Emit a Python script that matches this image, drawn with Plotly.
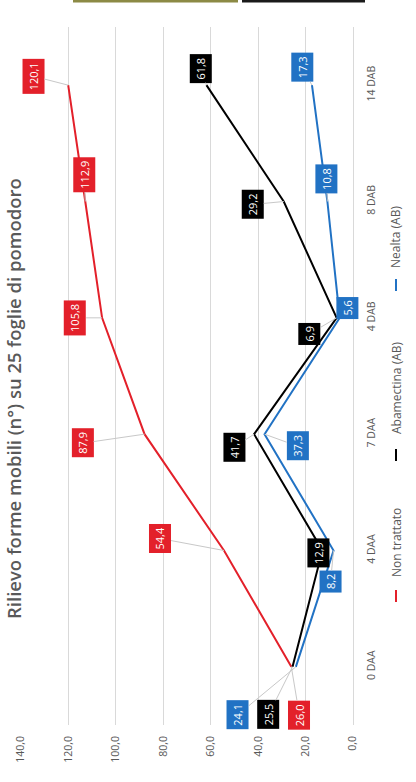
import plotly.graph_objects as go

# ---- data -------------------------------------------------------------
categories = ["0 DAA", "4 DAA", "7 DAA", "4 DAB", "8 DAB", "14 DAB"]
series_names = ["Non trattato", "Abamectina (AB)", "Nealta (AB)"]
non_trattato = [26.0, 54.4, 87.9, 105.8, 112.9, 120.1]
abamectina = [25.5, 12.9, 41.7, 6.9, 29.2, 61.8]
nealta = [24.1, 8.2, 37.3, 5.6, 10.8, 17.3]
value_ticks = [0, 20, 40, 60, 80, 100, 120, 140]

title_text = "Rilievo forme mobili (n°) su 25 foglie di pomodoro"

# ---- styling ----------------------------------------------------------
W, H = 416, 782
M_L, M_R, M_T, M_B = 21, 63, 27, 57
colors = ["#E3202A", "#000000", "#2172C4"]
grey_text = "#595959"
FONT = "Open Sans"

# label offsets (pixels) of each value box from its point
label_offsets = [
    [(8, 48), (-64, -12), (-62, 9), (-27, 0), (-1, -27), (-35, -9)],
    [(-24, 48), (-4, 2), (-20, 13), (-27, 16), (-31, 3), (-6, -17)],
    [(-58, 48), (-3, 31), (33, 12), (8, -10), (-1, -23), (-10, -18)],
]

plot_w = W - M_L - M_R
plot_h = H - M_T - M_B


def px_x(x):
    return (x - M_L) / plot_w


def px_y(y):
    return (H - M_B - y) / plot_h


def fmt(v):
    return f"{v:.1f}".replace(".", ",")


fig = go.Figure()
all_series = [non_trattato, abamectina, nealta]

for name, vals, col in zip(series_names, all_series, colors):
    fig.add_trace(go.Scatter(
        x=vals, y=categories, mode="lines", name=name,
        line=dict(color=col, width=2), showlegend=False,
    ))

annotations = []
for vals, col, offs in zip(all_series, colors, label_offsets):
    for cat, v, (ax, ay) in zip(categories, vals, offs):
        near = abs(ax) < 12 and abs(ay) < 12
        ann = dict(
            x=v, y=cat, xref="x", yref="y",
            text=fmt(v), textangle=-90,
            font=dict(family=FONT, size=11, color="white"),
            bgcolor=col, borderpad=3,
        )
        if near:
            ann.update(showarrow=False, xshift=ax, yshift=-ay)
        else:
            ann.update(showarrow=True, ax=ax, ay=ay, arrowhead=0,
                       arrowwidth=1, arrowcolor="#C8C8C8", standoff=0,
                       startstandoff=0)
        annotations.append(ann)

# title, written upward along the left edge
annotations.append(dict(
    x=px_x(13), y=px_y(399), xref="paper", yref="paper",
    xanchor="center", yanchor="middle",
    text=title_text, textangle=-90, showarrow=False,
    font=dict(family=FONT, size=18.5, color=grey_text, weight=600),
))

# legend drawn upward along the right edge
legend_text_y = [543, 388, 237]
legend_line_y = [(590, 602), (449, 461), (279, 291)]
shapes = []
for name, col, ty, (l0, l1) in zip(series_names, colors, legend_text_y, legend_line_y):
    annotations.append(dict(
        x=px_x(396), y=px_y(ty), xref="paper", yref="paper",
        xanchor="center", yanchor="middle",
        text=name, textangle=-90, showarrow=False,
        font=dict(family=FONT, size=12, color=grey_text),
    ))
    shapes.append(dict(
        type="line", xref="paper", yref="paper",
        x0=px_x(396), x1=px_x(396), y0=px_y(l0), y1=px_y(l1),
        line=dict(color=col, width=2),
    ))

# thin strips along the top border
shapes.append(dict(type="rect", xref="paper", yref="paper",
                   x0=px_x(73), x1=px_x(238), y0=px_y(2.5), y1=px_y(-1),
                   fillcolor="#8C8A45", line=dict(width=0)))
shapes.append(dict(type="rect", xref="paper", yref="paper",
                   x0=px_x(242), x1=px_x(365), y0=px_y(2.5), y1=px_y(-1),
                   fillcolor="#1A1A1A", line=dict(width=0)))

fig.update_layout(
    width=W, height=H,
    margin=dict(l=M_L, r=M_R, t=M_T, b=M_B, pad=0),
    paper_bgcolor="white", plot_bgcolor="white",
    separators=",.",
    annotations=annotations, shapes=shapes,
    showlegend=False,
    xaxis=dict(
        range=[140, 0], autorange=False,
        tickvals=value_ticks, tickformat=".1f", tickangle=-90,
        tickfont=dict(family=FONT, size=10.5, color=grey_text),
        showgrid=True, gridcolor="#D9D9D9", gridwidth=1,
        zeroline=True, zerolinecolor="#D9D9D9", zerolinewidth=1,
        showline=False, ticks="", ticklabelstandoff=8, fixedrange=True,
    ),
    yaxis=dict(
        type="category", categoryorder="array", categoryarray=categories,
        range=[-0.5, 5.5], autorange=False, side="right",
        tickangle=-90, tickfont=dict(family=FONT, size=10.5, color=grey_text),
        showgrid=False, zeroline=False, showline=False, ticks="",
        ticklabelstandoff=10, fixedrange=True,
    ),
)

fig.write_html("out.html")
